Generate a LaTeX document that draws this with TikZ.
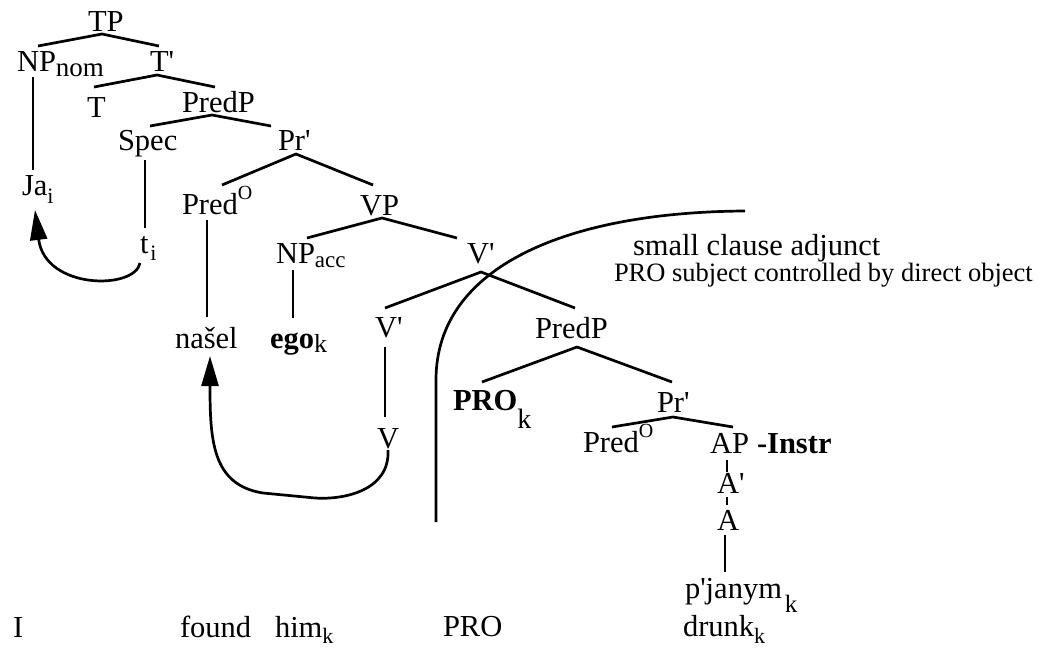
\documentclass[tikz,border=0pt]{standalone}
\usepackage{fontspec}
\setmainfont{Liberation Serif}[Ligatures=TeXOff]
\usetikzlibrary{arrows.meta}
\newcommand\sbx[3]{\raisebox{-#1pt}{\fontsize{#2}{#2}\selectfont #3}}
\newcommand\spx[3]{\raisebox{#1pt}{\fontsize{#2}{#2}\selectfont #3}}
\begin{document}
\begin{tikzpicture}[x=1pt,y=-1pt,
  lab/.style={inner sep=0pt, outer sep=0pt, anchor=base west, font=\fontsize{30.5}{36}\selectfont},
  note/.style={inner sep=0pt, outer sep=0pt, anchor=base west, font=\fontsize{26.5}{32}\selectfont},
  edge/.style={line width=2.7pt},
  mv/.style={line width=2.7pt, -{Triangle[length=30pt,width=17pt]}}]
\useasboundingbox (0,0) rectangle (1039,654);
% labels
\node[lab] (TP) at (88,31) {TP};
\node[lab] (NPnom) at (17,71) {NP\sbx{5}{27}{nom}};
\node[lab] (Tb) at (150,71) {T'};
\node[lab] (T) at (87,117) {T};
\node[lab] (PredPa) at (182,112) {PredP};
\node[lab] (Spec) at (118,150) {Spec};
\node[lab] (Pra) at (278,150) {Pr'};
\node[lab] (Ja) at (22,195) {Ja\sbx{8}{22}{i}};
\node[lab] (ti) at (140,253) {t\hspace{2pt}\sbx{7}{22}{i}};
\node[lab] (Preda) at (182,214) {Pred\spx{15}{20}{O}};
\node[lab] (VP) at (360,215) {VP};
\node[lab] (NPacc) at (276,263) {NP\sbx{4}{23}{acc}};
\node[lab] (Vba) at (467,263) {V'};
\node[lab] (nasel) at (175,348) {našel};
\node[lab] (ego) at (270,348) {\textbf{ego}\sbx{4}{26}{k}};
\node[lab] (Vbb) at (375,337) {V'};
\node[lab] (V) at (377,448) {V};
\node[lab] (PredPb) at (535,338) {PredP};
\node[lab] (PROk) at (453,410) {\textbf{PRO}\sbx{18}{28}{k}};
\node[lab] (Prb) at (657,412) {Pr'};
\node[lab] (Predb) at (583,452) {Pred\spx{15}{20}{O}};
\node[lab] (AP) at (710,453) {AP};
\node[lab] (Instr) at (757,453) {\textbf{-Instr}};
\node[lab] (Ab) at (717,493) {A'};
\node[lab] (A) at (717,530) {A};
\node[lab] (pj) at (685,598) {p'janym\hspace{3pt}\sbx{14}{25}{k}};
\node[lab] (sca) at (633,255) {small clause adjunct};
\node[note] (ctl) at (614,281) {PRO subject controlled by direct object};
% gloss
\node[lab] (gI) at (13,637) {I};
\node[lab] (gfound) at (180,637) {found};
\node[lab] (ghim) at (275,637) {him\sbx{6}{22}{k}};
\node[lab] (gPRO) at (443,636) {PRO};
\node[lab] (gdrunk) at (683,636) {drunk\sbx{7}{22}{k}};
% branches
\draw[edge] ([shift={(21,-25)}]NPnom.base west) -- ([shift={(14,3)}]TP.base west) -- ([shift={(9,-25)}]Tb.base west);
\draw[edge] ([shift={(7,-30)}]T.base west) -- ([shift={(7,4)}]Tb.base west) -- ([shift={(33,-25)}]PredPa.base west);
\draw[edge] ([shift={(32,-24)}]Spec.base west) -- ([shift={(30,3)}]PredPa.base west) -- ([shift={(-7,-24)}]Pra.base west);
\draw[edge] ([shift={(40,-29)}]Preda.base west) -- ([shift={(18,4)}]Pra.base west) -- ([shift={(13,-30)}]VP.base west);
\draw[edge] ([shift={(31,-25)}]NPacc.base west) -- ([shift={(22,3)}]VP.base west) -- ([shift={(-10,-25)}]Vba.base west);
\draw[edge] ([shift={(10,-29)}]Vbb.base west) -- ([shift={(14,9)}]Vba.base west) -- ([shift={(40,-30)}]PredPb.base west);
\draw[edge] ([shift={(29,-28)}]PROk.base west) -- ([shift={(42,9)}]PredPb.base west) -- ([shift={(15,-30)}]Prb.base west);
\draw[edge] ([shift={(29,-25)}]Predb.base west) -- ([shift={(16,5)}]Prb.base west) -- ([shift={(23,-26)}]AP.base west);
% vertical lines
\draw[edge] ([shift={(16,6)}]NPnom.base west) -- ([shift={(11,-25)}]Ja.base west);
\draw[edge] ([shift={(27,10)}]Spec.base west) -- ([shift={(5,-25)}]ti.base west);
\draw[edge] ([shift={(25,6)}]Preda.base west) -- ([shift={(32,-31)}]nasel.base west);
\draw[edge] ([shift={(17,7)}]NPacc.base west) -- ([shift={(23,-30)}]ego.base west);
\draw[edge] ([shift={(10,10)}]Vbb.base west) -- ([shift={(8,-31)}]V.base west);
\draw[edge] ([shift={(17,7)}]AP.base west) -- ([shift={(10,-21)}]Ab.base west);
\draw[edge] ([shift={(10,4)}]Ab.base west) -- ([shift={(10,-25)}]A.base west);
\draw[edge] ([shift={(8,5)}]A.base west) -- ([shift={(40,-26)}]pj.base west);
% movement arrows
\draw[mv] ([shift={(0,10)}]ti.base west) .. controls (135,290) and (45,290) .. ([shift={(13,15)}]Ja.base west);
\draw[mv] ([shift={(11,2)}]V.base west) .. controls (390,490) and (345,500) .. (315,498) -- (263,493) .. controls (212,485) and (210,440) .. ([shift={(35,8)}]nasel.base west);
% small clause boundary
\coordinate (cs) at (436,522);
\coordinate (ce) at (745,211);
\draw[edge] (cs) -- (436,380) .. controls (436,265) and (570,212) .. (ce);
\end{tikzpicture}
\end{document}
